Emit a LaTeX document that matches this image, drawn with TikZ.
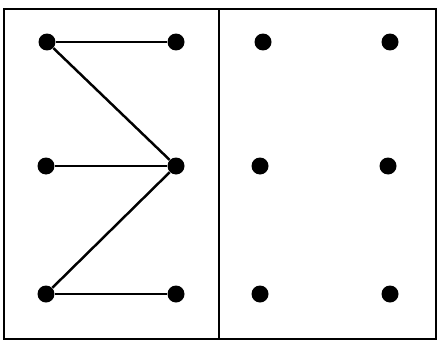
\documentclass[tikz,border=0pt]{standalone}
\usepackage{tikz}
\usetikzlibrary{positioning}

\begin{document}
\begin{tikzpicture}[
  x=0.02cm, y=-0.02cm,
  dot/.style={circle, fill=black, inner sep=0pt, minimum size=0.34cm},
  frame/.style={draw=black, line width=1.5pt},
  edge/.style={black, line width=1.4pt}
]
\useasboundingbox (0,0) rectangle (438,341);
\draw[frame] (4,9) rectangle (436,339);
\draw[frame] (219,9) -- (219,339);

% left panel
\node[dot] (a1) at (47,42) {};
\node[dot] (b1) at (176,42) {};
\node[dot] (a2) at (46,166) {};
\node[dot] (b2) at (176,166) {};
\node[dot] (a3) at (46,294) {};
\node[dot] (b3) at (176,294) {};

% right panel
\node[dot] (c1) at (263,42) {};
\node[dot] (d1) at (390,42) {};
\node[dot] (c2) at (260,166) {};
\node[dot] (d2) at (388,166) {};
\node[dot] (c3) at (260,294) {};
\node[dot] (d3) at (390,294) {};

\draw[edge] (a1) -- (b1);
\draw[edge] (a1) -- (b2);
\draw[edge] (a2) -- (b2);
\draw[edge] (b2) -- (a3);
\draw[edge] (a3) -- (b3);
\end{tikzpicture}
\end{document}
